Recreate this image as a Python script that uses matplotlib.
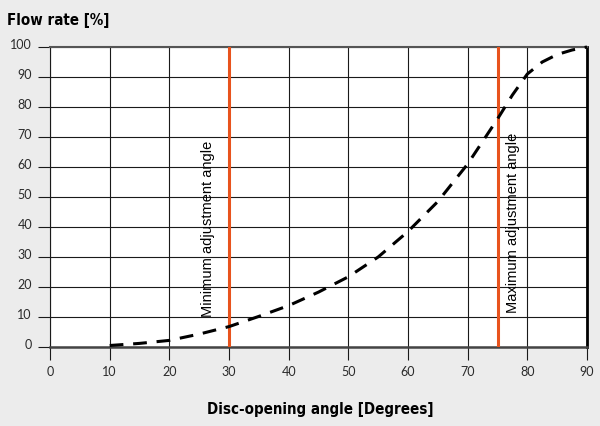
import matplotlib.pyplot as plt
import matplotlib.transforms as mtransforms

angle = [10, 15, 20, 25, 30, 35, 40, 45, 50, 55, 60, 65, 70, 75, 77.5, 80, 82.5, 85, 87.5, 90]
flow = [0.5, 1.2, 2.2, 4.3, 6.8, 10.2, 13.8, 18.3, 23.4, 30, 38.5, 48.5, 61, 76, 84, 91, 95, 97.5, 99, 100]
min_angle = 30
max_angle = 75
x_ticks = list(range(0, 91, 10))
y_ticks = list(range(0, 101, 10))

bg = "#ececec"
orange = "#e8531d"

fig = plt.figure(figsize=(6, 4.27), dpi=100, facecolor=bg)
ax = fig.add_axes([50 / 600, 79 / 427, 537 / 600, 300 / 427])
ax.set_facecolor("white")
ax.set_xlim(0, 90)
ax.set_ylim(0, 100)

ax.set_xticks(x_ticks)
ax.set_yticks(y_ticks)
ax.grid(True, color="#1a1a1a", linewidth=0.8)
ax.set_axisbelow(True)
ax.tick_params(length=9, width=0.8, color="#1a1a1a", pad=4, labelsize=9)
for lab in ax.get_xticklabels() + ax.get_yticklabels():
    lab.set_fontfamily("Lato")
    lab.set_color("#2a2a2a")
# nudge y labels up a bit
offset = mtransforms.ScaledTranslation(0, 4 / 100, fig.dpi_scale_trans)
for lab in ax.get_yticklabels():
    lab.set_transform(lab.get_transform() + offset)

ax.spines["left"].set_linewidth(0.8)
ax.spines["left"].set_color("#1a1a1a")
ax.spines["right"].set_linewidth(2)
ax.spines["right"].set_color("black")
ax.spines["top"].set_linewidth(1.5)
ax.spines["top"].set_color("#555555")
ax.spines["bottom"].set_linewidth(1.8)
ax.spines["bottom"].set_color("#444444")

ax.axvline(min_angle, color=orange, linewidth=2.2, zorder=3)
ax.axvline(max_angle, color=orange, linewidth=2.2, zorder=3)
ax.plot(angle, flow, color="black", linewidth=2.2, linestyle=(0, (4.5, 3.2)),
        dash_capstyle="butt", zorder=4, clip_on=False)

ax.text(26.5, 10.3, "Minimum adjustment angle", rotation=90, ha="center", va="bottom",
        fontsize=10.5, family=["Liberation Sans", "DejaVu Sans"], zorder=5)
ax.text(77.6, 11.5, "Maximum adjustment angle", rotation=90, ha="center", va="bottom",
        fontsize=10.5, family=["Liberation Sans", "DejaVu Sans"], zorder=5)

fig.text(7 / 600, 1 - 20 / 427, "Flow rate [%]", ha="left", va="center",
         fontsize=10.8, fontweight="bold", family="DejaVu Sans", fontstretch="condensed")
fig.text(320 / 600, 1 - 410 / 427, "Disc-opening angle [Degrees]", ha="center", va="center",
         fontsize=10.8, fontweight="bold", family="DejaVu Sans", fontstretch="condensed")

fig.savefig("out.png", dpi=100, facecolor=bg)
